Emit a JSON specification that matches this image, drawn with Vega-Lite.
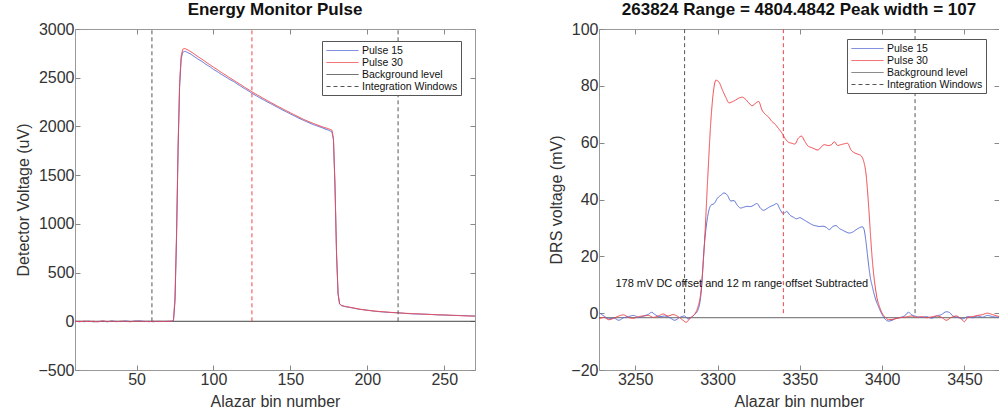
{
"$schema":"https://vega.github.io/schema/vega-lite/v6.json",
"padding":{"left":15,"top":0,"right":0,"bottom":0},
"spacing":72,
"config":{"font":"Liberation Sans","view":{"stroke":"#999","strokeWidth":1},
 "axis":{"grid":false,"domain":false,"tickColor":"#888","tickSize":-5,"labelFontSize":16,"labelColor":"#333","titleFontSize":16,"titleFontWeight":"normal","titleColor":"#333","labelPadding":6,"format":"d"},
 "legend":{"orient":"none","title":null,"strokeColor":"#555","fillColor":"white","padding":3,"labelFontSize":10.5,"labelColor":"#111","symbolType":"M-2.67,0L2.67,0","symbolSize":144,"symbolOffset":11,"symbolStrokeWidth":1,"rowPadding":0,"labelOffset":13,"cornerRadius":0},
 "title":{"fontSize":17,"fontWeight":"bold","color":"#111","offset":2}},
"datasets":{
"lp":[
{"x":10,"v":-3,"series":"Pulse 15"},{"x":13,"v":0,"series":"Pulse 15"},{"x":16,"v":-4,"series":"Pulse 15"},{"x":19,"v":2,"series":"Pulse 15"},{"x":22,"v":-6,"series":"Pulse 15"},{"x":25,"v":-2,"series":"Pulse 15"},{"x":28,"v":1,"series":"Pulse 15"},{"x":31,"v":-5,"series":"Pulse 15"},{"x":34,"v":3,"series":"Pulse 15"},{"x":37,"v":-1,"series":"Pulse 15"},{"x":40,"v":-3,"series":"Pulse 15"},{"x":43,"v":4,"series":"Pulse 15"},{"x":46,"v":-2,"series":"Pulse 15"},{"x":49,"v":0,"series":"Pulse 15"},{"x":52,"v":6,"series":"Pulse 15"},{"x":55,"v":-3,"series":"Pulse 15"},{"x":58,"v":1,"series":"Pulse 15"},{"x":61,"v":-5,"series":"Pulse 15"},{"x":64,"v":2,"series":"Pulse 15"},{"x":67,"v":-2,"series":"Pulse 15"},{"x":70,"v":1,"series":"Pulse 15"},{"x":73,"v":0,"series":"Pulse 15"},{"x":74,"v":5,"series":"Pulse 15"},{"x":75,"v":200,"series":"Pulse 15"},{"x":76,"v":850,"series":"Pulse 15"},{"x":77,"v":1750,"series":"Pulse 15"},{"x":78,"v":2400,"series":"Pulse 15"},{"x":79,"v":2690,"series":"Pulse 15"},{"x":80,"v":2760,"series":"Pulse 15"},{"x":81,"v":2770,"series":"Pulse 15"},{"x":82,"v":2768,"series":"Pulse 15"},{"x":84,"v":2752,"series":"Pulse 15"},{"x":85,"v":2745,"series":"Pulse 15"},{"x":88,"v":2712,"series":"Pulse 15"},{"x":90,"v":2690,"series":"Pulse 15"},{"x":93,"v":2662,"series":"Pulse 15"},{"x":95,"v":2638,"series":"Pulse 15"},{"x":98,"v":2610,"series":"Pulse 15"},{"x":100,"v":2585,"series":"Pulse 15"},{"x":103,"v":2558,"series":"Pulse 15"},{"x":105,"v":2535,"series":"Pulse 15"},{"x":108,"v":2508,"series":"Pulse 15"},{"x":110,"v":2487,"series":"Pulse 15"},{"x":113,"v":2462,"series":"Pulse 15"},{"x":115,"v":2440,"series":"Pulse 15"},{"x":118,"v":2410,"series":"Pulse 15"},{"x":120,"v":2390,"series":"Pulse 15"},{"x":123,"v":2362,"series":"Pulse 15"},{"x":125,"v":2340,"series":"Pulse 15"},{"x":130,"v":2295,"series":"Pulse 15"},{"x":135,"v":2252,"series":"Pulse 15"},{"x":140,"v":2210,"series":"Pulse 15"},{"x":145,"v":2168,"series":"Pulse 15"},{"x":150,"v":2128,"series":"Pulse 15"},{"x":155,"v":2088,"series":"Pulse 15"},{"x":160,"v":2052,"series":"Pulse 15"},{"x":165,"v":2018,"series":"Pulse 15"},{"x":170,"v":1990,"series":"Pulse 15"},{"x":175,"v":1960,"series":"Pulse 15"},{"x":177,"v":1945,"series":"Pulse 15"},{"x":178,"v":1860,"series":"Pulse 15"},{"x":179,"v":1380,"series":"Pulse 15"},{"x":180,"v":690,"series":"Pulse 15"},{"x":181,"v":280,"series":"Pulse 15"},{"x":182,"v":178,"series":"Pulse 15"},{"x":183,"v":162,"series":"Pulse 15"},{"x":185,"v":152,"series":"Pulse 15"},{"x":190,"v":138,"series":"Pulse 15"},{"x":195,"v":122,"series":"Pulse 15"},{"x":200,"v":115,"series":"Pulse 15"},{"x":205,"v":102,"series":"Pulse 15"},{"x":210,"v":96,"series":"Pulse 15"},{"x":215,"v":90,"series":"Pulse 15"},{"x":220,"v":88,"series":"Pulse 15"},{"x":225,"v":80,"series":"Pulse 15"},{"x":230,"v":76,"series":"Pulse 15"},{"x":235,"v":73,"series":"Pulse 15"},{"x":240,"v":72,"series":"Pulse 15"},{"x":245,"v":66,"series":"Pulse 15"},{"x":250,"v":64,"series":"Pulse 15"},{"x":255,"v":60,"series":"Pulse 15"},{"x":260,"v":60,"series":"Pulse 15"},{"x":265,"v":56,"series":"Pulse 15"},{"x":270,"v":54,"series":"Pulse 15"},
{"x":10,"v":2,"series":"Pulse 30"},{"x":13,"v":-5,"series":"Pulse 30"},{"x":16,"v":3,"series":"Pulse 30"},{"x":19,"v":-2,"series":"Pulse 30"},{"x":22,"v":0,"series":"Pulse 30"},{"x":25,"v":-6,"series":"Pulse 30"},{"x":28,"v":4,"series":"Pulse 30"},{"x":31,"v":-3,"series":"Pulse 30"},{"x":34,"v":1,"series":"Pulse 30"},{"x":37,"v":-4,"series":"Pulse 30"},{"x":40,"v":2,"series":"Pulse 30"},{"x":43,"v":-1,"series":"Pulse 30"},{"x":46,"v":-5,"series":"Pulse 30"},{"x":49,"v":3,"series":"Pulse 30"},{"x":52,"v":-2,"series":"Pulse 30"},{"x":55,"v":1,"series":"Pulse 30"},{"x":58,"v":-4,"series":"Pulse 30"},{"x":61,"v":2,"series":"Pulse 30"},{"x":64,"v":-3,"series":"Pulse 30"},{"x":67,"v":0,"series":"Pulse 30"},{"x":70,"v":-2,"series":"Pulse 30"},{"x":73,"v":3,"series":"Pulse 30"},{"x":74,"v":10,"series":"Pulse 30"},{"x":75,"v":250,"series":"Pulse 30"},{"x":76,"v":900,"series":"Pulse 30"},{"x":77,"v":1800,"series":"Pulse 30"},{"x":78,"v":2450,"series":"Pulse 30"},{"x":79,"v":2720,"series":"Pulse 30"},{"x":80,"v":2790,"series":"Pulse 30"},{"x":81,"v":2800,"series":"Pulse 30"},{"x":82,"v":2795,"series":"Pulse 30"},{"x":84,"v":2780,"series":"Pulse 30"},{"x":85,"v":2770,"series":"Pulse 30"},{"x":88,"v":2738,"series":"Pulse 30"},{"x":90,"v":2715,"series":"Pulse 30"},{"x":93,"v":2685,"series":"Pulse 30"},{"x":95,"v":2662,"series":"Pulse 30"},{"x":98,"v":2630,"series":"Pulse 30"},{"x":100,"v":2608,"series":"Pulse 30"},{"x":103,"v":2578,"series":"Pulse 30"},{"x":105,"v":2555,"series":"Pulse 30"},{"x":108,"v":2526,"series":"Pulse 30"},{"x":110,"v":2505,"series":"Pulse 30"},{"x":113,"v":2476,"series":"Pulse 30"},{"x":115,"v":2455,"series":"Pulse 30"},{"x":118,"v":2426,"series":"Pulse 30"},{"x":120,"v":2405,"series":"Pulse 30"},{"x":123,"v":2376,"series":"Pulse 30"},{"x":125,"v":2355,"series":"Pulse 30"},{"x":130,"v":2310,"series":"Pulse 30"},{"x":135,"v":2265,"series":"Pulse 30"},{"x":140,"v":2222,"series":"Pulse 30"},{"x":145,"v":2180,"series":"Pulse 30"},{"x":150,"v":2140,"series":"Pulse 30"},{"x":155,"v":2100,"series":"Pulse 30"},{"x":160,"v":2062,"series":"Pulse 30"},{"x":165,"v":2030,"series":"Pulse 30"},{"x":170,"v":2000,"series":"Pulse 30"},{"x":175,"v":1975,"series":"Pulse 30"},{"x":177,"v":1962,"series":"Pulse 30"},{"x":178,"v":1880,"series":"Pulse 30"},{"x":179,"v":1400,"series":"Pulse 30"},{"x":180,"v":700,"series":"Pulse 30"},{"x":181,"v":280,"series":"Pulse 30"},{"x":182,"v":180,"series":"Pulse 30"},{"x":183,"v":165,"series":"Pulse 30"},{"x":185,"v":155,"series":"Pulse 30"},{"x":190,"v":140,"series":"Pulse 30"},{"x":195,"v":125,"series":"Pulse 30"},{"x":200,"v":112,"series":"Pulse 30"},{"x":205,"v":105,"series":"Pulse 30"},{"x":210,"v":98,"series":"Pulse 30"},{"x":215,"v":92,"series":"Pulse 30"},{"x":220,"v":86,"series":"Pulse 30"},{"x":225,"v":82,"series":"Pulse 30"},{"x":230,"v":78,"series":"Pulse 30"},{"x":235,"v":75,"series":"Pulse 30"},{"x":240,"v":70,"series":"Pulse 30"},{"x":245,"v":68,"series":"Pulse 30"},{"x":250,"v":65,"series":"Pulse 30"},{"x":255,"v":62,"series":"Pulse 30"},{"x":260,"v":58,"series":"Pulse 30"},{"x":265,"v":55,"series":"Pulse 30"},{"x":270,"v":52,"series":"Pulse 30"}
],
"lbg":[{"x":10,"v":0,"series":"Background level"},{"x":270,"v":0,"series":"Background level"}],
"lwin":[{"x":60,"v0":0,"v1":3000,"series":"Integration Windows"},{"x":220,"v0":0,"v1":3000,"series":"Integration Windows"}],
"lmid":[{"x":125,"v0":0,"v1":3000}],
"rp":[
{"x":3228,"v":0.2,"series":"Pulse 15"},{"x":3231,"v":-1.0,"series":"Pulse 15"},{"x":3234,"v":-2.0,"series":"Pulse 15"},{"x":3237,"v":-1.7,"series":"Pulse 15"},{"x":3240,"v":-2.5,"series":"Pulse 15"},{"x":3243,"v":-1.6,"series":"Pulse 15"},{"x":3246,"v":-1.2,"series":"Pulse 15"},{"x":3249,"v":-0.8,"series":"Pulse 15"},{"x":3252,"v":-1.5,"series":"Pulse 15"},{"x":3255,"v":-1.0,"series":"Pulse 15"},{"x":3258,"v":-0.4,"series":"Pulse 15"},{"x":3260,"v":0.3,"series":"Pulse 15"},{"x":3262,"v":-0.5,"series":"Pulse 15"},{"x":3265,"v":-1.2,"series":"Pulse 15"},{"x":3268,"v":-1.0,"series":"Pulse 15"},{"x":3271,"v":-1.6,"series":"Pulse 15"},{"x":3274,"v":-2.5,"series":"Pulse 15"},{"x":3277,"v":-1.5,"series":"Pulse 15"},{"x":3280,"v":-1.0,"series":"Pulse 15"},{"x":3282,"v":-2.0,"series":"Pulse 15"},{"x":3284,"v":-1.5,"series":"Pulse 15"},{"x":3286,"v":-0.5,"series":"Pulse 15"},{"x":3288,"v":1.0,"series":"Pulse 15"},{"x":3290,"v":7,"series":"Pulse 15"},{"x":3292,"v":24,"series":"Pulse 15"},{"x":3294,"v":34,"series":"Pulse 15"},{"x":3296,"v":38,"series":"Pulse 15"},{"x":3298,"v":38.6,"series":"Pulse 15"},{"x":3300,"v":40.5,"series":"Pulse 15"},{"x":3302,"v":41.5,"series":"Pulse 15"},{"x":3304,"v":42.3,"series":"Pulse 15"},{"x":3306,"v":41.5,"series":"Pulse 15"},{"x":3308,"v":39.5,"series":"Pulse 15"},{"x":3310,"v":39.6,"series":"Pulse 15"},{"x":3312,"v":38,"series":"Pulse 15"},{"x":3314,"v":37,"series":"Pulse 15"},{"x":3316,"v":37.3,"series":"Pulse 15"},{"x":3318,"v":37.6,"series":"Pulse 15"},{"x":3320,"v":37.5,"series":"Pulse 15"},{"x":3322,"v":38,"series":"Pulse 15"},{"x":3324,"v":38.6,"series":"Pulse 15"},{"x":3326,"v":37,"series":"Pulse 15"},{"x":3328,"v":36.2,"series":"Pulse 15"},{"x":3330,"v":36.8,"series":"Pulse 15"},{"x":3332,"v":37.5,"series":"Pulse 15"},{"x":3334,"v":38,"series":"Pulse 15"},{"x":3336,"v":38.6,"series":"Pulse 15"},{"x":3338,"v":36.5,"series":"Pulse 15"},{"x":3340,"v":35,"series":"Pulse 15"},{"x":3342,"v":35.8,"series":"Pulse 15"},{"x":3344,"v":34.5,"series":"Pulse 15"},{"x":3346,"v":33.8,"series":"Pulse 15"},{"x":3348,"v":33.2,"series":"Pulse 15"},{"x":3350,"v":33.6,"series":"Pulse 15"},{"x":3352,"v":33,"series":"Pulse 15"},{"x":3354,"v":32.3,"series":"Pulse 15"},{"x":3356,"v":31.6,"series":"Pulse 15"},{"x":3358,"v":31,"series":"Pulse 15"},{"x":3360,"v":30.7,"series":"Pulse 15"},{"x":3362,"v":30.5,"series":"Pulse 15"},{"x":3364,"v":30.6,"series":"Pulse 15"},{"x":3366,"v":30.2,"series":"Pulse 15"},{"x":3368,"v":29.4,"series":"Pulse 15"},{"x":3370,"v":30.5,"series":"Pulse 15"},{"x":3372,"v":30.8,"series":"Pulse 15"},{"x":3374,"v":29.8,"series":"Pulse 15"},{"x":3376,"v":29.2,"series":"Pulse 15"},{"x":3378,"v":28.6,"series":"Pulse 15"},{"x":3380,"v":28.2,"series":"Pulse 15"},{"x":3382,"v":28.5,"series":"Pulse 15"},{"x":3384,"v":29.3,"series":"Pulse 15"},{"x":3386,"v":30,"series":"Pulse 15"},{"x":3388,"v":30.4,"series":"Pulse 15"},{"x":3389,"v":29.5,"series":"Pulse 15"},{"x":3390,"v":26,"series":"Pulse 15"},{"x":3391,"v":21,"series":"Pulse 15"},{"x":3392,"v":16,"series":"Pulse 15"},{"x":3393,"v":12,"series":"Pulse 15"},{"x":3394,"v":9.5,"series":"Pulse 15"},{"x":3395,"v":7,"series":"Pulse 15"},{"x":3396,"v":5,"series":"Pulse 15"},{"x":3398,"v":2,"series":"Pulse 15"},{"x":3400,"v":-0.5,"series":"Pulse 15"},{"x":3402,"v":-2.2,"series":"Pulse 15"},{"x":3404,"v":-2.8,"series":"Pulse 15"},{"x":3406,"v":-2.5,"series":"Pulse 15"},{"x":3408,"v":-2.0,"series":"Pulse 15"},{"x":3411,"v":-1.5,"series":"Pulse 15"},{"x":3414,"v":-0.8,"series":"Pulse 15"},{"x":3416,"v":0.3,"series":"Pulse 15"},{"x":3418,"v":-0.6,"series":"Pulse 15"},{"x":3421,"v":-1.2,"series":"Pulse 15"},{"x":3424,"v":-1.5,"series":"Pulse 15"},{"x":3427,"v":-1.2,"series":"Pulse 15"},{"x":3430,"v":-1.8,"series":"Pulse 15"},{"x":3433,"v":-1.0,"series":"Pulse 15"},{"x":3436,"v":-0.5,"series":"Pulse 15"},{"x":3439,"v":0.5,"series":"Pulse 15"},{"x":3441,"v":0.2,"series":"Pulse 15"},{"x":3443,"v":-1.0,"series":"Pulse 15"},{"x":3446,"v":-1.5,"series":"Pulse 15"},{"x":3449,"v":-2.0,"series":"Pulse 15"},{"x":3452,"v":-1.2,"series":"Pulse 15"},{"x":3455,"v":-1.6,"series":"Pulse 15"},{"x":3458,"v":-1.0,"series":"Pulse 15"},{"x":3461,"v":-1.4,"series":"Pulse 15"},{"x":3464,"v":-0.8,"series":"Pulse 15"},{"x":3467,"v":-1.2,"series":"Pulse 15"},{"x":3471,"v":-1.5,"series":"Pulse 15"},
{"x":3228,"v":-2.0,"series":"Pulse 30"},{"x":3231,"v":-1.5,"series":"Pulse 30"},{"x":3234,"v":-2.3,"series":"Pulse 30"},{"x":3237,"v":-1.8,"series":"Pulse 30"},{"x":3240,"v":-1.0,"series":"Pulse 30"},{"x":3243,"v":-0.6,"series":"Pulse 30"},{"x":3246,"v":-1.5,"series":"Pulse 30"},{"x":3249,"v":-1.8,"series":"Pulse 30"},{"x":3252,"v":-1.2,"series":"Pulse 30"},{"x":3255,"v":-1.0,"series":"Pulse 30"},{"x":3258,"v":-0.8,"series":"Pulse 30"},{"x":3261,"v":-1.5,"series":"Pulse 30"},{"x":3264,"v":-1.0,"series":"Pulse 30"},{"x":3267,"v":-0.3,"series":"Pulse 30"},{"x":3270,"v":-1.0,"series":"Pulse 30"},{"x":3273,"v":-0.5,"series":"Pulse 30"},{"x":3276,"v":-1.2,"series":"Pulse 30"},{"x":3279,"v":-2.5,"series":"Pulse 30"},{"x":3281,"v":-3.2,"series":"Pulse 30"},{"x":3283,"v":-2.0,"series":"Pulse 30"},{"x":3285,"v":-1.0,"series":"Pulse 30"},{"x":3287,"v":0.5,"series":"Pulse 30"},{"x":3288,"v":2,"series":"Pulse 30"},{"x":3290,"v":8,"series":"Pulse 30"},{"x":3292,"v":24,"series":"Pulse 30"},{"x":3294,"v":47,"series":"Pulse 30"},{"x":3296,"v":68,"series":"Pulse 30"},{"x":3298,"v":80,"series":"Pulse 30"},{"x":3299,"v":82,"series":"Pulse 30"},{"x":3301,"v":81.2,"series":"Pulse 30"},{"x":3303,"v":78.5,"series":"Pulse 30"},{"x":3305,"v":76,"series":"Pulse 30"},{"x":3307,"v":74,"series":"Pulse 30"},{"x":3309,"v":74.4,"series":"Pulse 30"},{"x":3311,"v":75,"series":"Pulse 30"},{"x":3313,"v":75.7,"series":"Pulse 30"},{"x":3315,"v":76,"series":"Pulse 30"},{"x":3317,"v":75.3,"series":"Pulse 30"},{"x":3319,"v":74,"series":"Pulse 30"},{"x":3321,"v":73,"series":"Pulse 30"},{"x":3323,"v":73.8,"series":"Pulse 30"},{"x":3325,"v":74.5,"series":"Pulse 30"},{"x":3327,"v":71.5,"series":"Pulse 30"},{"x":3329,"v":70,"series":"Pulse 30"},{"x":3331,"v":69,"series":"Pulse 30"},{"x":3333,"v":67.5,"series":"Pulse 30"},{"x":3335,"v":66.5,"series":"Pulse 30"},{"x":3337,"v":65,"series":"Pulse 30"},{"x":3339,"v":63.5,"series":"Pulse 30"},{"x":3341,"v":61.5,"series":"Pulse 30"},{"x":3343,"v":60.2,"series":"Pulse 30"},{"x":3345,"v":59.8,"series":"Pulse 30"},{"x":3347,"v":59.5,"series":"Pulse 30"},{"x":3349,"v":61.5,"series":"Pulse 30"},{"x":3351,"v":62.3,"series":"Pulse 30"},{"x":3353,"v":60.5,"series":"Pulse 30"},{"x":3355,"v":58.8,"series":"Pulse 30"},{"x":3357,"v":58.3,"series":"Pulse 30"},{"x":3359,"v":57.8,"series":"Pulse 30"},{"x":3361,"v":57.4,"series":"Pulse 30"},{"x":3363,"v":58.5,"series":"Pulse 30"},{"x":3365,"v":59.3,"series":"Pulse 30"},{"x":3367,"v":59,"series":"Pulse 30"},{"x":3369,"v":59.2,"series":"Pulse 30"},{"x":3371,"v":60.3,"series":"Pulse 30"},{"x":3373,"v":59,"series":"Pulse 30"},{"x":3375,"v":59.3,"series":"Pulse 30"},{"x":3377,"v":59.6,"series":"Pulse 30"},{"x":3379,"v":59.8,"series":"Pulse 30"},{"x":3381,"v":57.5,"series":"Pulse 30"},{"x":3383,"v":56.5,"series":"Pulse 30"},{"x":3385,"v":56,"series":"Pulse 30"},{"x":3387,"v":55.5,"series":"Pulse 30"},{"x":3389,"v":53,"series":"Pulse 30"},{"x":3390,"v":50,"series":"Pulse 30"},{"x":3391,"v":44,"series":"Pulse 30"},{"x":3392,"v":36,"series":"Pulse 30"},{"x":3393,"v":27,"series":"Pulse 30"},{"x":3394,"v":19,"series":"Pulse 30"},{"x":3395,"v":13,"series":"Pulse 30"},{"x":3396,"v":8.5,"series":"Pulse 30"},{"x":3397,"v":5,"series":"Pulse 30"},{"x":3398,"v":3,"series":"Pulse 30"},{"x":3400,"v":0,"series":"Pulse 30"},{"x":3402,"v":-1.5,"series":"Pulse 30"},{"x":3404,"v":-2.3,"series":"Pulse 30"},{"x":3406,"v":-2.2,"series":"Pulse 30"},{"x":3409,"v":-1.8,"series":"Pulse 30"},{"x":3412,"v":-1.5,"series":"Pulse 30"},{"x":3415,"v":-1.3,"series":"Pulse 30"},{"x":3418,"v":-1.0,"series":"Pulse 30"},{"x":3421,"v":-1.5,"series":"Pulse 30"},{"x":3424,"v":-1.2,"series":"Pulse 30"},{"x":3427,"v":-1.6,"series":"Pulse 30"},{"x":3430,"v":-1.3,"series":"Pulse 30"},{"x":3433,"v":-1.0,"series":"Pulse 30"},{"x":3436,"v":-1.4,"series":"Pulse 30"},{"x":3439,"v":-2.5,"series":"Pulse 30"},{"x":3442,"v":-1.5,"series":"Pulse 30"},{"x":3445,"v":-1.0,"series":"Pulse 30"},{"x":3448,"v":-2.0,"series":"Pulse 30"},{"x":3450,"v":-3.0,"series":"Pulse 30"},{"x":3452,"v":-1.5,"series":"Pulse 30"},{"x":3455,"v":-1.2,"series":"Pulse 30"},{"x":3458,"v":-0.8,"series":"Pulse 30"},{"x":3461,"v":-0.5,"series":"Pulse 30"},{"x":3464,"v":0.0,"series":"Pulse 30"},{"x":3467,"v":-0.5,"series":"Pulse 30"},{"x":3471,"v":-1.2,"series":"Pulse 30"}
],
"rbg":[{"x":3228,"v":-1.6,"series":"Background level"},{"x":3471,"v":-1.6,"series":"Background level"}],
"rwin":[{"x":3280,"v0":0,"v1":100,"series":"Integration Windows"},{"x":3420,"v0":0,"v1":100,"series":"Integration Windows"}],
"rmid":[{"x":3340,"v0":0,"v1":100}],
"rnote":[{"x":3238,"v":10.2,"label":"178 mV DC offset and 12 m range offset Subtracted"}]
},
"hconcat":[
{
"width":400,"height":341,
"title":{"text":"Energy Monitor Pulse"},
"layer":[
{"data":{"name":"lbg"},"mark":{"type":"line","strokeWidth":1,"clip":true},
 "encoding":{
  "x":{"field":"x","type":"quantitative","scale":{"domain":[10,270],"nice":false,"zero":false},"axis":{"orient":"bottom","values":[50,100,150,200,250],"title":"Alazar bin number","titlePadding":6}},
  "y":{"field":"v","type":"quantitative","scale":{"domain":[-500,3000],"nice":false,"zero":false},"axis":{"orient":"left","values":[-500,0,500,1000,1500,2000,2500,3000],"title":"Detector Voltage (uV)","titlePadding":6}},
  "color":{"field":"series","type":"nominal","scale":{"domain":["Pulse 15","Pulse 30","Background level","Integration Windows"],"range":["#5a6fd6","#f0464b","#444444","#555555"]},"legend":{"legendX":247,"legendY":12}},
  "strokeDash":{"field":"series","type":"nominal","scale":{"domain":["Pulse 15","Pulse 30","Background level","Integration Windows"],"range":[[1,0],[1,0],[1,0],[4,3]]},"legend":{"legendX":247,"legendY":12}}
 }},
{"data":{"name":"lp"},"mark":{"type":"line","strokeWidth":1,"clip":true},
 "encoding":{
  "x":{"field":"x","type":"quantitative","scale":{"domain":[10,270],"nice":false,"zero":false},"axis":null},
  "y":{"field":"v","type":"quantitative","scale":{"domain":[-500,3000],"nice":false,"zero":false},"axis":null},
  "color":{"field":"series","type":"nominal","scale":{"domain":["Pulse 15","Pulse 30","Background level","Integration Windows"],"range":["#5a6fd6","#f0464b","#444444","#555555"]},"legend":{"legendX":247,"legendY":12}},
  "strokeDash":{"field":"series","type":"nominal","scale":{"domain":["Pulse 15","Pulse 30","Background level","Integration Windows"],"range":[[1,0],[1,0],[1,0],[4,3]]},"legend":{"legendX":247,"legendY":12}}
 }},
{"data":{"name":"lwin"},"mark":{"type":"rule","strokeWidth":1},
 "encoding":{
  "x":{"field":"x","type":"quantitative","scale":{"domain":[10,270],"nice":false,"zero":false},"axis":null},
  "y":{"field":"v0","type":"quantitative","scale":{"domain":[-500,3000],"nice":false,"zero":false},"axis":null},
  "y2":{"field":"v1"},
  "color":{"field":"series","type":"nominal","scale":{"domain":["Pulse 15","Pulse 30","Background level","Integration Windows"],"range":["#5a6fd6","#f0464b","#444444","#555555"]},"legend":{"legendX":247,"legendY":12}},
  "strokeDash":{"field":"series","type":"nominal","scale":{"domain":["Pulse 15","Pulse 30","Background level","Integration Windows"],"range":[[1,0],[1,0],[1,0],[4,3]]},"legend":{"legendX":247,"legendY":12}}
 }},
{"data":{"name":"lmid"},"mark":{"type":"rule","strokeWidth":1,"color":"#f0464b","strokeDash":[4,3]},
 "encoding":{
  "x":{"field":"x","type":"quantitative","scale":{"domain":[10,270],"nice":false,"zero":false},"axis":null},
  "y":{"field":"v0","type":"quantitative","scale":{"domain":[-500,3000],"nice":false,"zero":false},"axis":null},
  "y2":{"field":"v1"}
 }},
{"data":{"name":"lbg"},"mark":{"type":"line","opacity":0},
 "encoding":{
  "x":{"field":"x","type":"quantitative","scale":{"domain":[10,270],"nice":false,"zero":false},"axis":{"orient":"top","values":[50,100,150,200,250],"labels":false,"title":null}},
  "y":{"field":"v","type":"quantitative","scale":{"domain":[-500,3000],"nice":false,"zero":false},"axis":{"orient":"right","values":[-500,0,500,1000,1500,2000,2500,3000],"labels":false,"title":null}}
 }}
],
"resolve":{"axis":{"x":"independent","y":"independent"}}
},
{
"width":400,"height":341,
"title":{"text":"263824 Range = 4804.4842 Peak width = 107"},
"layer":[
{"data":{"name":"rbg"},"mark":{"type":"line","strokeWidth":1,"clip":true},
 "encoding":{
  "x":{"field":"x","type":"quantitative","scale":{"domain":[3228,3471],"nice":false,"zero":false},"axis":{"orient":"bottom","values":[3250,3300,3350,3400,3450],"title":"Alazar bin number","titlePadding":6}},
  "y":{"field":"v","type":"quantitative","scale":{"domain":[-20,100],"nice":false,"zero":false},"axis":{"orient":"left","values":[-20,0,20,40,60,80,100],"title":"DRS voltage (mV)","titlePadding":6}},
  "color":{"field":"series","type":"nominal","scale":{"domain":["Pulse 15","Pulse 30","Background level","Integration Windows"],"range":["#5a6fd6","#f0464b","#666666","#555555"]},"legend":{"legendX":248,"legendY":10}},
  "strokeDash":{"field":"series","type":"nominal","scale":{"domain":["Pulse 15","Pulse 30","Background level","Integration Windows"],"range":[[1,0],[1,0],[1,0],[4,3]]},"legend":{"legendX":248,"legendY":10}}
 }},
{"data":{"name":"rp"},"mark":{"type":"line","strokeWidth":1,"clip":true,"interpolate":"monotone"},
 "encoding":{
  "x":{"field":"x","type":"quantitative","scale":{"domain":[3228,3471],"nice":false,"zero":false},"axis":null},
  "y":{"field":"v","type":"quantitative","scale":{"domain":[-20,100],"nice":false,"zero":false},"axis":null},
  "color":{"field":"series","type":"nominal","scale":{"domain":["Pulse 15","Pulse 30","Background level","Integration Windows"],"range":["#5a6fd6","#f0464b","#666666","#555555"]},"legend":{"legendX":248,"legendY":10}},
  "strokeDash":{"field":"series","type":"nominal","scale":{"domain":["Pulse 15","Pulse 30","Background level","Integration Windows"],"range":[[1,0],[1,0],[1,0],[4,3]]},"legend":{"legendX":248,"legendY":10}}
 }},
{"data":{"name":"rwin"},"mark":{"type":"rule","strokeWidth":1},
 "encoding":{
  "x":{"field":"x","type":"quantitative","scale":{"domain":[3228,3471],"nice":false,"zero":false},"axis":null},
  "y":{"field":"v0","type":"quantitative","scale":{"domain":[-20,100],"nice":false,"zero":false},"axis":null},
  "y2":{"field":"v1"},
  "color":{"field":"series","type":"nominal","scale":{"domain":["Pulse 15","Pulse 30","Background level","Integration Windows"],"range":["#5a6fd6","#f0464b","#666666","#555555"]},"legend":{"legendX":248,"legendY":10}},
  "strokeDash":{"field":"series","type":"nominal","scale":{"domain":["Pulse 15","Pulse 30","Background level","Integration Windows"],"range":[[1,0],[1,0],[1,0],[4,3]]},"legend":{"legendX":248,"legendY":10}}
 }},
{"data":{"name":"rmid"},"mark":{"type":"rule","strokeWidth":1,"color":"#f0464b","strokeDash":[4,3]},
 "encoding":{
  "x":{"field":"x","type":"quantitative","scale":{"domain":[3228,3471],"nice":false,"zero":false},"axis":null},
  "y":{"field":"v0","type":"quantitative","scale":{"domain":[-20,100],"nice":false,"zero":false},"axis":null},
  "y2":{"field":"v1"}
 }},
{"data":{"name":"rnote"},"mark":{"type":"text","align":"left","baseline":"middle","fontSize":11,"color":"#111"},
 "encoding":{
  "x":{"field":"x","type":"quantitative","scale":{"domain":[3228,3471],"nice":false,"zero":false},"axis":null},
  "y":{"field":"v","type":"quantitative","scale":{"domain":[-20,100],"nice":false,"zero":false},"axis":null},
  "text":{"field":"label"}
 }},
{"data":{"name":"rbg"},"mark":{"type":"line","opacity":0},
 "encoding":{
  "x":{"field":"x","type":"quantitative","scale":{"domain":[3228,3471],"nice":false,"zero":false},"axis":{"orient":"top","values":[3250,3300,3350,3400,3450],"labels":false,"title":null}},
  "y":{"field":"v","type":"quantitative","scale":{"domain":[-20,100],"nice":false,"zero":false},"axis":{"orient":"right","values":[-20,0,20,40,60,80,100],"labels":false,"title":null}}
 }}
],
"resolve":{"axis":{"x":"independent","y":"independent"}}
}
],
"resolve":{"scale":{"color":"independent","strokeDash":"independent"},"legend":{"color":"independent","strokeDash":"independent"}}
}
